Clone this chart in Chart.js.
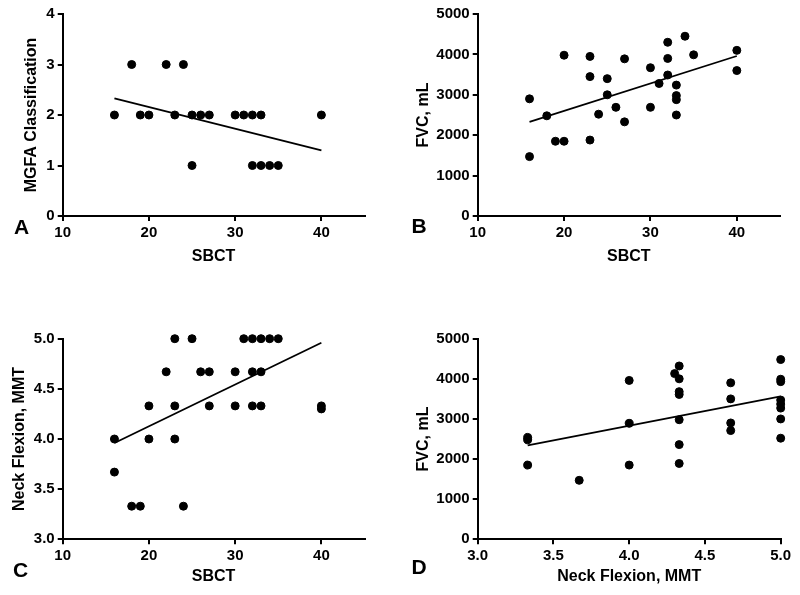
<!DOCTYPE html>
<html>
<head>
<meta charset="utf-8">
<script src="https://cdn.jsdelivr.net/npm/chart.js@4.4.1/dist/chart.umd.min.js"></script>
<style>
  body { margin: 0; background: #fff; width: 800px; height: 595px; position: relative; overflow: hidden; }
  .panel { position: absolute; width: 400px; }
  .top { top: 0; height: 297px; }
  .bottom { top: 297px; height: 298px; }
</style>
</head>
<body>
<div class="panel top" style="left:0"><canvas id="chartA" width="400" height="297"></canvas></div>
<div class="panel top" style="left:400px"><canvas id="chartB" width="400" height="297"></canvas></div>
<div class="panel bottom" style="left:0"><canvas id="chartC" width="400" height="298"></canvas></div>
<div class="panel bottom" style="left:400px"><canvas id="chartD" width="400" height="298"></canvas></div>
<script>
// --- data ---
// A: SBCT vs MGFA classification
const sbctA = [16, 19, 20, 23, 25, 26, 27, 30, 31, 32, 33, 40, 18, 22, 24, 25, 32, 33, 34, 35];
const mgfaA = [2, 2, 2, 2, 2, 2, 2, 2, 2, 2, 2, 2, 3, 3, 3, 1, 1, 1, 1, 1];
const fitXA = [16, 40];
const fitYA = [2.33, 1.30];

// B: SBCT vs FVC
const sbctB = [16, 16, 18, 19, 20, 20, 23, 23, 23, 24, 25, 25, 26, 27, 27, 30, 30, 31, 32, 32, 32, 33, 33, 33, 33, 34, 35, 40, 40];
const fvcB = [2900, 1470, 2480, 1850, 1850, 3980, 3950, 3450, 1880, 2520, 3400, 3000, 2690, 3890, 2330, 3670, 2690, 3280, 4300, 3900, 3490, 3240, 2980, 2880, 2500, 4450, 3990, 4100, 3600];
const fitXB = [16, 40];
const fitYB = [2330, 3960];

// C: SBCT vs neck flexion
const sbctC = [16, 16, 18, 19, 20, 20, 22, 23, 23, 23, 24, 25, 26, 27, 27, 30, 30, 31, 32, 32, 32, 33, 33, 33, 34, 35, 40, 40];
const neckC = [4.00, 3.67, 3.33, 3.33, 4.33, 4.00, 4.67, 5.00, 4.33, 4.00, 3.33, 5.00, 4.67, 4.67, 4.33, 4.67, 4.33, 5.00, 5.00, 4.67, 4.33, 5.00, 4.67, 4.33, 5.00, 5.00, 4.33, 4.30];
const fitXC = [16, 40];
const fitYC = [3.96, 4.96];

// D: neck flexion vs FVC
const neckD = [3.33, 3.33, 3.33, 3.67, 4.00, 4.00, 4.00, 4.30, 4.33, 4.33, 4.33, 4.33, 4.33, 4.33, 4.33, 4.67, 4.67, 4.67, 4.67, 5, 5, 5, 5, 5, 5, 5, 5];
const fvcD = [2540, 2480, 1850, 1470, 3960, 2890, 1850, 4130, 4320, 4000, 3680, 3610, 2980, 2360, 1890, 3900, 3500, 2900, 2710, 4480, 3990, 3930, 3470, 3370, 3270, 3000, 2520];
const fitXD = [3.33, 5.0];
const fitYD = [2340, 3560];

// tick labels
const sbctTicks = [10, 20, 30, 40];
const mgfaTicks = [0, 1, 2, 3, 4];
const fvcTicks = [0, 1000, 2000, 3000, 4000, 5000];
const neckTicks = [3.0, 3.5, 4.0, 4.5, 5.0];

const FONT = "'Liberation Sans', Arial, sans-serif";

function toPoints(xs, ys) {
    return xs.map((x, i) => ({ x: x, y: ys[i] }));
}

// Build one axis (solid black line, outward ticks, no grid)
function makeAxis(range, ticks, decimals, title, titlePad, fitSize, isX) {
    return {
        type: 'linear',
        min: range[0],
        max: range[1],
        afterBuildTicks: scale => { scale.ticks = ticks.map(v => ({ value: v })); },
        afterFit: scale => {
            if (isX) scale.height = fitSize; else scale.width = fitSize;
        },
        grid: { drawOnChartArea: false, drawTicks: true, tickLength: 5, color: '#000', lineWidth: 2 },
        border: { display: true, color: '#000', width: 2 },
        ticks: {
            color: '#000',
            padding: 3,
            maxRotation: 0,
            font: { family: FONT, size: 15, weight: 'bold' },
            callback: v => decimals ? Number(v).toFixed(decimals) : String(v)
        },
        title: {
            display: true,
            text: title,
            color: '#000',
            font: { family: FONT, size: 16, weight: 'bold' },
            padding: isX ? { top: 0, bottom: titlePad } : { top: titlePad, bottom: 0 }
        }
    };
}

// Panel letter (A, B, C, D)
const letterPlugin = {
    id: 'panelLetter',
    afterDraw(chart, args, opts) {
        const ctx = chart.ctx;
        ctx.save();
        ctx.fillStyle = '#000';
        ctx.font = 'bold 21px ' + FONT;
        ctx.textBaseline = 'alphabetic';
        ctx.fillText(opts.text, opts.x, opts.y);
        ctx.restore();
    }
};

function renderPanel(canvasId, xs, ys, fitX, fitY, xAxis, yAxis, box, letter) {
    const canvasElement = document.getElementById(canvasId);
    if (!canvasElement) {
        console.warn(`Canvas with ID "${canvasId}" not found.`);
        return;
    }
    const ctx = canvasElement.getContext('2d');
    return new Chart(ctx, {
        type: 'scatter',
        data: {
            datasets: [{
                data: toPoints(xs, ys),
                backgroundColor: '#000',
                borderColor: '#000',
                pointRadius: 4,
                pointHoverRadius: 4,
                clip: false
            }, {
                data: toPoints(fitX, fitY),
                showLine: true,
                borderColor: '#000',
                borderWidth: 1.8,
                pointRadius: 0,
                fill: false,
                clip: false
            }]
        },
        options: {
            responsive: false,
            animation: false,
            layout: { padding: { left: 0, top: box.top, right: canvasElement.width - box.right, bottom: 0 } },
            plugins: {
                legend: { display: false },
                tooltip: { enabled: false },
                panelLetter: letter
            },
            scales: {
                x: makeAxis(xAxis.range, xAxis.ticks, xAxis.decimals, xAxis.title, xAxis.titlePad, canvasElement.height - box.bottom, true),
                y: makeAxis(yAxis.range, yAxis.ticks, yAxis.decimals, yAxis.title, yAxis.titlePad, box.left, false)
            }
        },
        plugins: [letterPlugin]
    });
}

// A
renderPanel('chartA', sbctA, mgfaA, fitXA, fitYA,
    { range: [10, 45], ticks: sbctTicks, decimals: 0, title: 'SBCT', titlePad: 31 },
    { range: [0, 4], ticks: mgfaTicks, decimals: 0, title: 'MGFA Classification', titlePad: 22 },
    { left: 62.7, right: 364.5, top: 14, bottom: 216 },
    { text: 'A', x: 14, y: 234 });

// B
renderPanel('chartB', sbctB, fvcB, fitXB, fitYB,
    { range: [10, 45], ticks: sbctTicks, decimals: 0, title: 'SBCT', titlePad: 31 },
    { range: [0, 5000], ticks: fvcTicks, decimals: 0, title: 'FVC, mL', titlePad: 14 },
    { left: 77.7, right: 380, top: 14, bottom: 216 },
    { text: 'B', x: 11.5, y: 233 });

// C
renderPanel('chartC', sbctC, neckC, fitXC, fitYC,
    { range: [10, 45], ticks: sbctTicks, decimals: 0, title: 'SBCT', titlePad: 9 },
    { range: [3, 5], ticks: neckTicks, decimals: 1, title: 'Neck Flexion, MMT', titlePad: 10 },
    { left: 62.7, right: 364.5, top: 41.7, bottom: 242.3 },
    { text: 'C', x: 13, y: 280 });

// D
renderPanel('chartD', neckD, fvcD, fitXD, fitYD,
    { range: [3, 5], ticks: neckTicks, decimals: 1, title: 'Neck Flexion, MMT', titlePad: 9 },
    { range: [0, 5000], ticks: fvcTicks, decimals: 0, title: 'FVC, mL', titlePad: 13.5 },
    { left: 77.7, right: 380.7, top: 41.7, bottom: 242.3 },
    { text: 'D', x: 11.5, y: 277 });
</script>
</body>
</html>
